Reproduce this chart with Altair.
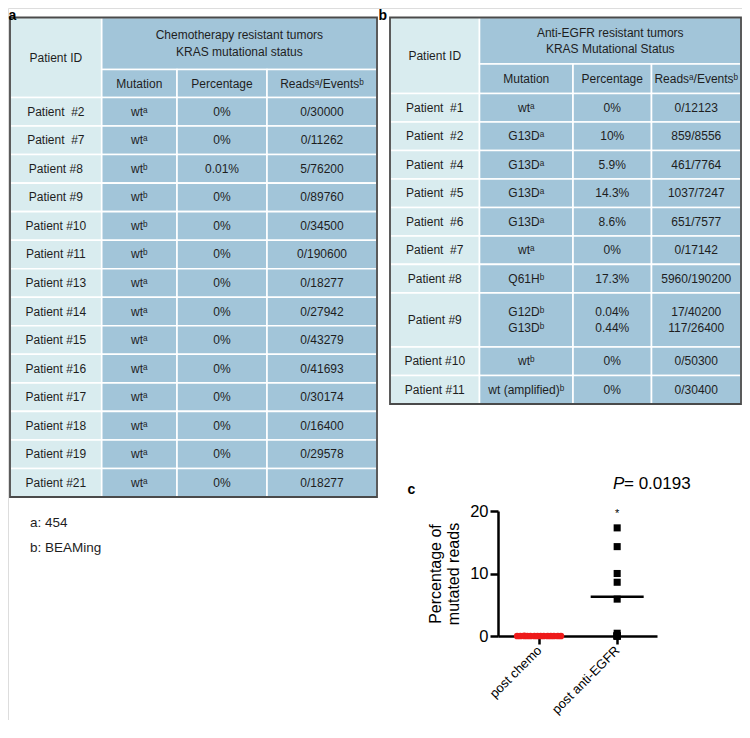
import altair as alt
import pandas as pd

# ------------------------------------------------------------------ data
chemo_title = "Chemotherapy resistant tumors\nKRAS mutational status"
chemo_patients = ["Patient\u00a0 #2", "Patient\u00a0 #7", "Patient #8", "Patient #9", "Patient #10",
                  "Patient #11", "Patient #13", "Patient #14", "Patient #15", "Patient #16",
                  "Patient #17", "Patient #18", "Patient #19", "Patient #21"]
chemo_mutation = ["wt\u1d43", "wt\u1d43", "wt\u1d47", "wt\u1d47", "wt\u1d47", "wt\u1d47", "wt\u1d43",
                  "wt\u1d43", "wt\u1d43", "wt\u1d43", "wt\u1d43", "wt\u1d43", "wt\u1d43", "wt\u1d43"]
chemo_percentage = ["0%", "0%", "0.01%", "0%", "0%", "0%", "0%", "0%", "0%", "0%", "0%", "0%", "0%", "0%"]
chemo_reads = ["0/30000", "0/11262", "5/76200", "0/89760", "0/34500", "0/190600", "0/18277",
               "0/27942", "0/43279", "0/41693", "0/30174", "0/16400", "0/29578", "0/18277"]

egfr_title = "Anti-EGFR resistant tumors\nKRAS Mutational Status"
egfr_patients = ["Patient\u00a0 #1", "Patient\u00a0 #2", "Patient\u00a0 #4", "Patient\u00a0 #5",
                 "Patient\u00a0 #6", "Patient\u00a0 #7", "Patient #8", "Patient #9",
                 "Patient #10", "Patient #11"]
egfr_mutation = ["wt\u1d43", "G13D\u1d43", "G13D\u1d43", "G13D\u1d43", "G13D\u1d43", "wt\u1d43",
                 "Q61H\u1d47", "G12D\u1d47\nG13D\u1d47", "wt\u1d47", "wt (amplified)\u1d47"]
egfr_percentage = ["0%", "10%", "5.9%", "14.3%", "8.6%", "0%", "17.3%", "0.04%\n0.44%", "0%", "0%"]
egfr_reads = ["0/12123", "859/8556", "461/7764", "1037/7247", "651/7577", "0/17142",
              "5960/190200", "17/40200\n117/26400", "0/50300", "0/30400"]

sub_headers = ["Mutation", "Percentage", "Reads\u1d43/Events\u1d47"]
footnotes = ["a: 454", "b: BEAMing"]

groups = ["post chemo", "post anti-EGFR"]
post_chemo_values = [0, 0, 0.01, 0, 0, 0, 0, 0, 0, 0, 0, 0, 0, 0]
post_chemo_jitter = [-0.28, -0.24, -0.19, -0.15, -0.11, -0.06, -0.02,
                     0.02, 0.06, 0.11, 0.15, 0.19, 0.24, 0.28]
post_egfr_values = [0, 10, 5.9, 14.3, 8.6, 0, 17.3, 0.04, 0.44, 0, 0]
post_egfr_line = 6.3
p_value_text = "= 0.0193"

# ------------------------------------------------------------------ layout / style
FONT = "Liberation Sans"
W, H = 734, 712
LIGHT = "#d9ecef"
BLUE = "#a2c5d9"
BORDER = "#4a4a4a"
TXT = "#1e1e1e"
LH = 16.5

A_COLS = [10, 101.7, 177, 267, 377]
A_ROWS = (17.5, 69.5, 97.5, 497)
B_COLS = [390, 479.5, 573, 651.5, 741]
B_ROWS = (17.5, 64, 93.5, 404)

PX = alt.Scale(domain=[8, 8 + W], nice=False, zero=False)
PY = alt.Scale(domain=[8, 8 + H], reverse=True, nice=False, zero=False)


def put_text(texts, x, yc, s):
    texts.append(dict(x=x, y=yc - LH * s.count("\n") / 2, text=s))


def build_table(cols, rows, title, patients, mutation, pct, reads):
    y_top, y_split, y_head, y_bot = rows
    cells, texts = [], []
    cells.append(dict(x=cols[0], x2=cols[1], y=y_top, y2=y_head, fill=LIGHT))
    put_text(texts, (cols[0] + cols[1]) / 2, (y_top + y_head) / 2, "Patient ID")
    cells.append(dict(x=cols[1], x2=cols[4], y=y_top, y2=y_split, fill=BLUE))
    put_text(texts, (cols[1] + cols[4]) / 2, (y_top + y_split) / 2, title)
    for j, lab in enumerate(sub_headers):
        cells.append(dict(x=cols[j + 1], x2=cols[j + 2], y=y_split, y2=y_head, fill=BLUE))
        put_text(texts, (cols[j + 1] + cols[j + 2]) / 2, (y_split + y_head) / 2, lab)
    units = [1 + 0.9 * m.count("\n") for m in mutation]
    h = (y_bot - y_head) / sum(units)
    y = y_head
    for i in range(len(patients)):
        y2 = y + units[i] * h
        vals = [patients[i], mutation[i], pct[i], reads[i]]
        for j in range(4):
            cells.append(dict(x=cols[j], x2=cols[j + 1], y=y, y2=y2, fill=LIGHT if j == 0 else BLUE))
            put_text(texts, (cols[j] + cols[j + 1]) / 2, (y + y2) / 2, vals[j])
        y = y2
    border = dict(x=cols[0], x2=cols[4], y=y_top, y2=y_bot)
    return cells, texts, border


ca, ta, ba = build_table(A_COLS, A_ROWS, chemo_title, chemo_patients, chemo_mutation,
                         chemo_percentage, chemo_reads)
cb, tb, bb = build_table(B_COLS, B_ROWS, egfr_title, egfr_patients, egfr_mutation,
                         egfr_percentage, egfr_reads)
cells_df = pd.DataFrame(ca + cb)
texts_df = pd.DataFrame(ta + tb)
borders_df = pd.DataFrame([ba, bb])

XP = alt.X("x:Q", scale=PX, axis=None)
YP = alt.Y("y:Q", scale=PY, axis=None)

rects = alt.Chart(cells_df).mark_rect(stroke="white", strokeWidth=1.6).encode(
    x=XP, x2="x2:Q", y=YP, y2="y2:Q", fill=alt.Fill("fill:N", scale=None))
borders = alt.Chart(borders_df).mark_rect(fillOpacity=0, stroke=BORDER, strokeWidth=1.8).encode(
    x=XP, x2="x2:Q", y=YP, y2="y2:Q")
cell_text = alt.Chart(texts_df).mark_text(font=FONT, fontSize=12, color=TXT, lineBreak="\n",
                                          lineHeight=LH, align="center", baseline="middle").encode(
    x=XP, y=YP, text="text:N")

panel_df = pd.DataFrame(dict(x=[8.5, 378.5], y=[8.5, 8.5], text=["a", "b"]))
panel_lbl = alt.Chart(panel_df).mark_text(font=FONT, fontSize=14, fontWeight="bold", color="black",
                                          align="left", baseline="top").encode(
    x=XP, y=YP, text="text:N")
c_df = pd.DataFrame(dict(x=[407.5], y=[490], text=["c"]))
c_lbl = alt.Chart(c_df).mark_text(font=FONT, fontSize=14, fontWeight="bold", color="black",
                                  align="left", baseline="middle").encode(x=XP, y=YP, text="text:N")
foot_df = pd.DataFrame(dict(x=[30, 30], y=[523, 548], text=footnotes))
foot = alt.Chart(foot_df).mark_text(font=FONT, fontSize=13.5, color=TXT, align="left",
                                    baseline="middle").encode(x=XP, y=YP, text="text:N")
p_df = pd.DataFrame(dict(x=[613], y=[484], text=["P"]))
p_italic = alt.Chart(p_df).mark_text(font=FONT, fontSize=17, fontStyle="italic", color="black",
                                     align="left", baseline="middle").encode(x=XP, y=YP, text="text:N")
pv_df = pd.DataFrame(dict(x=[624], y=[484], text=[p_value_text]))
p_val = alt.Chart(pv_df).mark_text(font=FONT, fontSize=17, color="black", align="left",
                                   baseline="middle").encode(x=XP, y=YP, text="text:N")

tables = alt.layer(rects, borders, cell_text, panel_lbl, c_lbl, foot, p_italic, p_val)

# ------------------------------------------------------------------ panel c
CX = alt.Scale(domain=[0.474, 2.51], range=[490, 649], nice=False, zero=False)
CY = alt.Scale(domain=[0, 20], range=[628, 503], nice=False, zero=False)
label_expr = f"datum.value == 1 ? '{groups[0]}' : (datum.value == 2 ? '{groups[1]}' : '')"
XAX = alt.Axis(orient="bottom", offset=628 - H, values=[1, 2], labelExpr=label_expr,
               labelAngle=315, labelAlign="right", labelBaseline="middle", labelPadding=4,
               labelFont=FONT, labelFontSize=13, labelColor="black", tickSize=8, tickWidth=2.5,
               tickColor="black", domainWidth=2.5, domainColor="black", grid=False, title=None)
YAX = alt.Axis(orient="left", offset=-490, values=[0, 10, 20], labelFont=FONT, labelFontSize=16.5,
               labelColor="black", labelPadding=2, tickSize=8, tickWidth=2.5, tickColor="black",
               domainWidth=2.5, domainColor="black", grid=False,
               title=["Percentage of", "mutated reads"], titleFont=FONT, titleFontSize=16,
               titleFontWeight="normal", titleColor="black", titlePadding=8)
XC = alt.X("gx:Q", scale=CX, axis=XAX)
YC = alt.Y("value:Q", scale=CY, axis=YAX)

chemo_df = pd.DataFrame(dict(gx=[1 + j for j in post_chemo_jitter], value=post_chemo_values))
egfr_df = pd.DataFrame(dict(gx=[2] * len(post_egfr_values), value=post_egfr_values))
line_df = pd.DataFrame(dict(gx=[2], value=[post_egfr_line]))
star_df = pd.DataFrame(dict(gx=[2], value=[19.6], text=["*"]))

chemo_pts = alt.Chart(chemo_df).mark_circle(size=45, color="#ee1a1a", opacity=1).encode(x=XC, y=YC)
egfr_pts = alt.Chart(egfr_df).mark_square(size=50, color="black", opacity=1).encode(x=XC, y=YC)
egfr_line = alt.Chart(line_df).mark_tick(orient="horizontal", size=53, thickness=2.5,
                                         color="black", opacity=1).encode(x=XC, y=YC)
star = alt.Chart(star_df).mark_text(font=FONT, fontSize=11, color="black",
                                    baseline="middle").encode(x=XC, y=YC, text="text:N")

panel_c = alt.layer(chemo_pts, egfr_pts, egfr_line, star)

chart = alt.layer(tables, panel_c).resolve_scale(x="independent", y="independent").properties(
    width=W, height=H, autosize=alt.AutoSizeParams(type="none"), padding=0
).configure_view(strokeWidth=0, stroke="transparent").configure(background="white")

chart.save("out.html", embed_options={"renderer": "svg", "actions": False})
